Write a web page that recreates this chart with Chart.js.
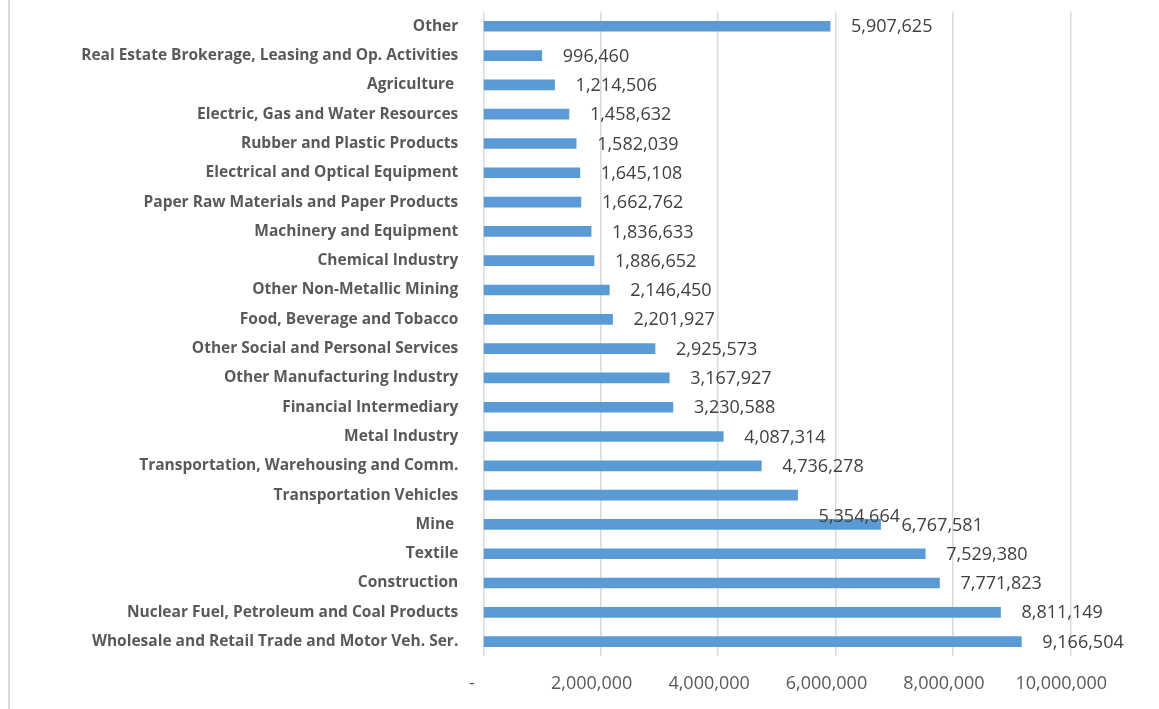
<!DOCTYPE html>
<html>
<head>
<meta charset="utf-8">
<title>Sectors</title>
<script src="https://cdn.jsdelivr.net/npm/chart.js@4"></script>
<style>
  html, body { margin: 0; padding: 0; background: #fff; }
  #wrap { width: 1159px; height: 709px; }
</style>
</head>
<body>
<div id="wrap"><canvas id="sectorChart" width="1159" height="709"></canvas></div>
<script>
let sectors = [
	"Other",
	"Real Estate Brokerage, Leasing and Op. Activities",
	"Agriculture ",
	"Electric, Gas and Water Resources",
	"Rubber and Plastic Products",
	"Electrical and Optical Equipment",
	"Paper Raw Materials and Paper Products",
	"Machinery and Equipment",
	"Chemical Industry",
	"Other Non-Metallic Mining",
	"Food, Beverage and Tobacco",
	"Other Social and Personal Services",
	"Other Manufacturing Industry",
	"Financial Intermediary",
	"Metal Industry",
	"Transportation, Warehousing and Comm.",
	"Transportation Vehicles",
	"Mine ",
	"Textile",
	"Construction",
	"Nuclear Fuel, Petroleum and Coal Products",
	"Wholesale and Retail Trade and Motor Veh. Ser."
]
let amounts = [
	5907625, 996460, 1214506, 1458632, 1582039, 1645108, 1662762,
	1836633, 1886652, 2146450, 2201927, 2925573, 3167927, 3230588,
	4087314, 4736278, 5354664, 6767581, 7529380, 7771823, 8811149, 9166504
]
let axisMax = 10000000
let axisStep = 2000000

let fmt = new Intl.NumberFormat('en-US')

// value labels to the right of each bar; the vehicles label sits a row lower
let valueLabels = {
	id: 'valueLabels',
	afterDatasetsDraw(chart) {
		let ctx = chart.ctx
		let bars = chart.getDatasetMeta(0).data
		ctx.save()
		ctx.font = '18px "Open Sans"'
		ctx.fillStyle = '#404040'
		ctx.textAlign = 'left'
		ctx.textBaseline = 'middle'
		for(let i = 0; i < bars.length; ++i) {
			let dy = sectors[i] === "Transportation Vehicles" ? 21 : 0
			ctx.fillText(fmt.format(amounts[i]), bars[i].x + 21, bars[i].y + 1 + dy)
		}
		ctx.restore()
	}
}

// thin frame edge on the left
let frameEdge = {
	id: 'frameEdge',
	beforeDraw(chart) {
		let ctx = chart.ctx
		ctx.save()
		ctx.fillStyle = '#fff'
		ctx.fillRect(0, 0, chart.width, chart.height)
		ctx.strokeStyle = '#d9d9d9'
		ctx.lineWidth = 2
		ctx.beginPath()
		ctx.moveTo(9, 0)
		ctx.lineTo(9, chart.height)
		ctx.stroke()
		ctx.restore()
	}
}

new Chart(document.getElementById('sectorChart'), {
	'type': 'bar',
	'data': {
		'labels': sectors,
		'datasets': [{
			'data': amounts,
			'backgroundColor': '#5b9bd5',
			'barThickness': 10,
		}]
	},
	'options': {
		'indexAxis': 'y',
		'responsive': false,
		'animation': false,
		'layout': {
			'padding': {'top': 11.6, 'right': 88.7, 'left': 0, 'bottom': 0}
		},
		'plugins': {
			'legend': {'display': false},
			'tooltip': {'enabled': false}
		},
		'scales': {
			'x': {
				'min': 0,
				'max': axisMax,
				'border': {'display': false},
				'grid': {
					'color': '#d9d9d9',
					'lineWidth': 1.5,
					'drawTicks': false
				},
				'ticks': {
					'stepSize': axisStep,
					'padding': 17,
					'labelOffset': -9,
					'color': '#595959',
					'font': {'family': 'Open Sans', 'size': 18},
					'callback': function(v) { return v === 0 ? '- ' : fmt.format(v) }
				},
				'afterFit': function(scale) { scale.height = 52.7 }
			},
			'y': {
				'border': {'display': false},
				// invisible tick marks keep the labels off the bars
				'grid': {
					'color': 'rgba(0,0,0,0)',
					'drawOnChartArea': false,
					'drawTicks': true,
					'tickLength': 25
				},
				'ticks': {
					'padding': 0,
					'autoSkip': false,
					'color': '#595959',
					'font': {'family': 'Open Sans', 'size': 15.5, 'weight': 'bold'}
				},
				'afterFit': function(scale) { scale.width = 483.3 }
			}
		}
	},
	'plugins': [frameEdge, valueLabels]
});
</script>
</body>
</html>
